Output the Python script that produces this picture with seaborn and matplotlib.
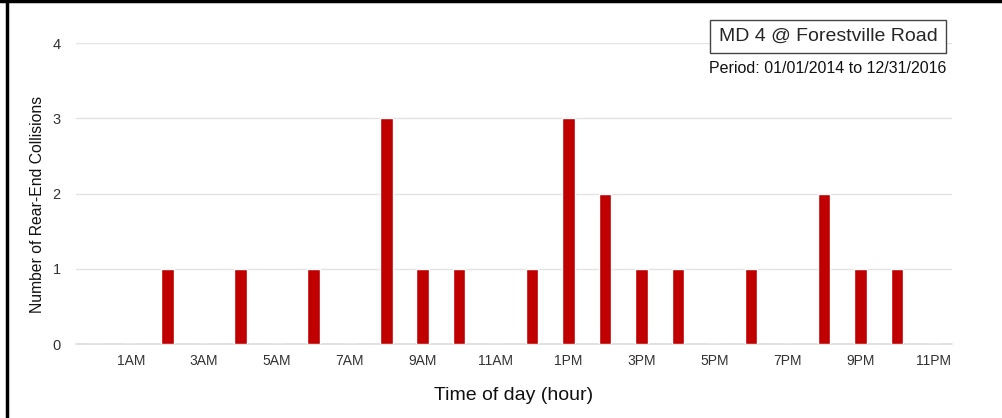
import numpy as np
import pandas as pd
import matplotlib
matplotlib.use("Agg")
import matplotlib.pyplot as plt
import seaborn as sns
from matplotlib.lines import Line2D

# hours of the day, 12AM .. 11PM
hours = ["12AM"] + [f"{h}AM" for h in range(1, 12)] + ["12PM"] + [f"{h}PM" for h in range(1, 12)]
collisions = [0, 0, 1, 0, 1, 0, 1, 0, 3, 1, 1, 0,
              1, 3, 2, 1, 1, 0, 1, 0, 2, 1, 1, 0]
tick_labels = [h if i % 2 == 1 else "" for i, h in enumerate(hours)]

location = "MD 4 @ Forestville Road"
period = "Period: 01/01/2014 to 12/31/2016"

df = pd.DataFrame({"hour": hours, "count": collisions})

sns.set_theme(style="white")
plt.rcParams['font.family'] = ['Liberation Sans', 'DejaVu Sans']

fig = plt.figure(figsize=(10.03, 4.18), dpi=100)
ax = fig.add_axes([0.0758, 0.177, 0.873, 0.72])

sns.barplot(data=df, x="hour", y="count", color="#c00000", width=0.35,
            saturation=1, ax=ax, zorder=3)

ax.set_ylim(0, 4)
ax.set_yticks([0, 1, 2, 3, 4])
ax.yaxis.grid(True, color="#e3e3e3", linewidth=1, zorder=0)
ax.axhline(0, color="#dddddd", lw=1.2, zorder=2, clip_on=False)
ax.set_xticks(range(len(hours)))
ax.set_xticklabels(tick_labels, fontsize=10, color="#333333")
ax.tick_params(axis="y", labelsize=10.5, colors="#333333", pad=11)
ax.tick_params(axis="x", length=0, pad=7)
ax.tick_params(axis="y", length=0)
for s in ax.spines.values():
    s.set_visible(False)

ax.set_xlabel("Time of day (hour)", fontsize=14, labelpad=14, color="#111111")
ax.set_ylabel("Number of Rear-End Collisions", fontsize=11.3, color="#111111")
ax.yaxis.set_label_coords(-0.036, 0.465)

fig.text(0.8255, 0.912, location, fontsize=14, ha="center", va="center",
         bbox=dict(boxstyle="square,pad=0.42", fc="white", ec="#444444", lw=1))
fig.text(0.8255, 0.835, period, fontsize=11.5, ha="center", va="center", color="#111111")

# frame lines on top and left of the picture
fig.add_artist(Line2D([0, 1], [0.9965, 0.9965], transform=fig.transFigure, color="black", lw=2.5))
fig.add_artist(Line2D([0.0065, 0.0065], [0, 1], transform=fig.transFigure, color="black", lw=2.5))

fig.savefig("out.png", dpi=100)
